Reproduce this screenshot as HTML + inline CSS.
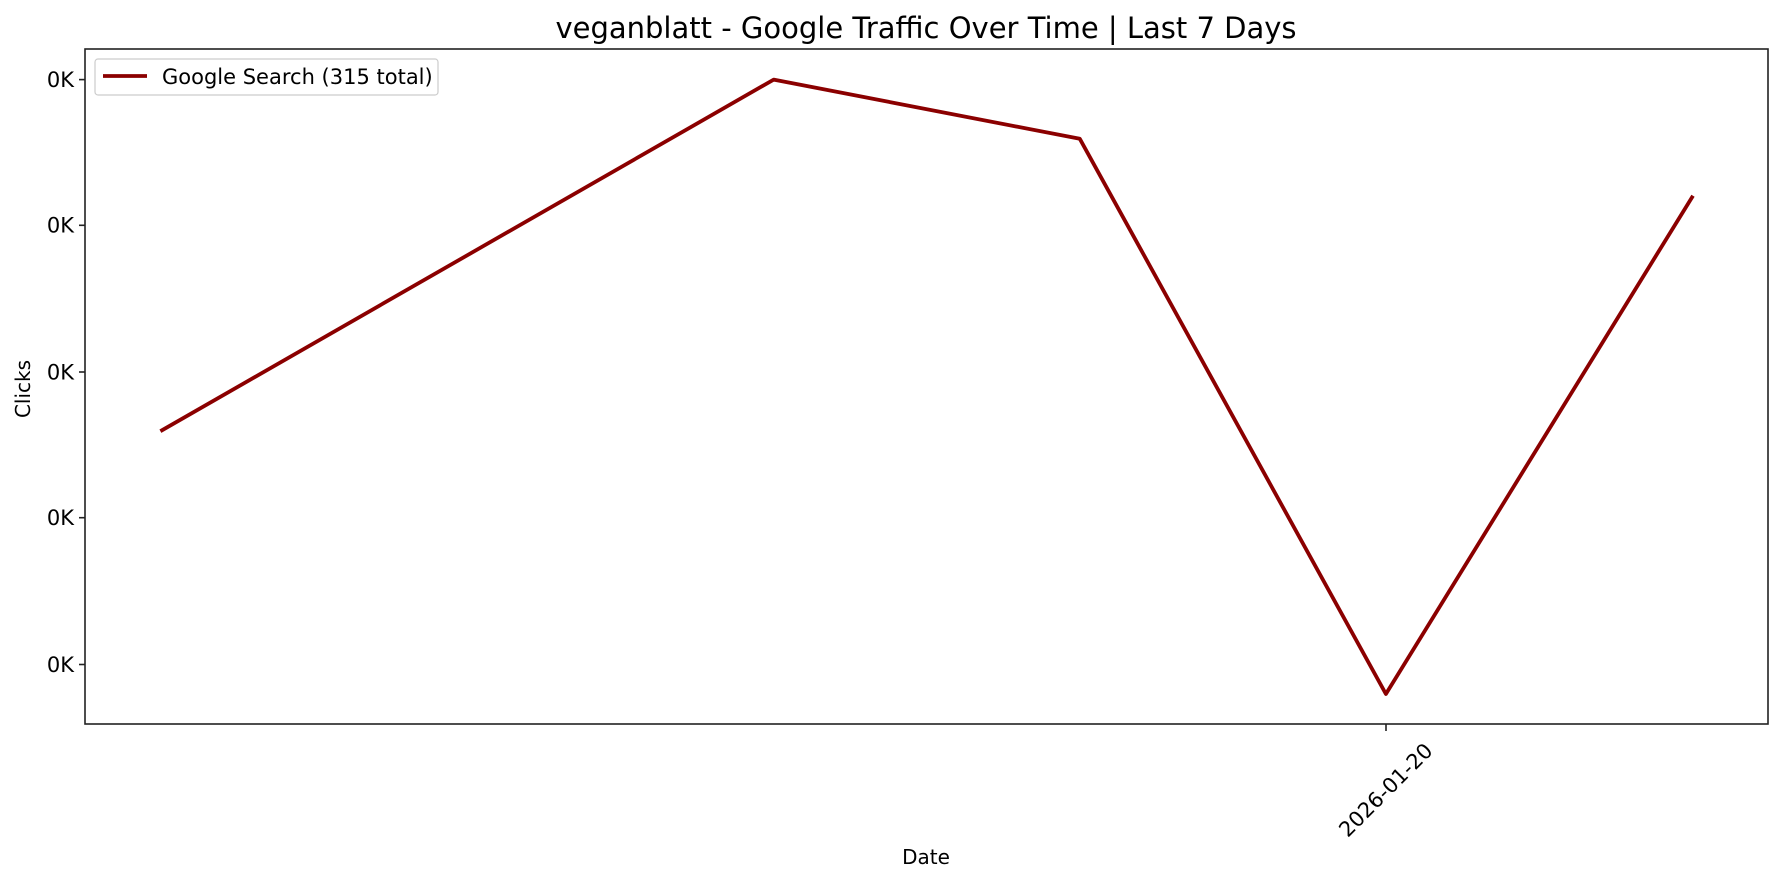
<!DOCTYPE html>
<html><head><meta charset="utf-8"><style>body{margin:0;background:#fff}svg{display:block}</style></head>
<body>
<svg width="1784" height="883" xmlns="http://www.w3.org/2000/svg" font-family="DejaVu Sans, Liberation Sans, sans-serif">
<rect width="1784" height="883" fill="#fff"/>
<text x="926" y="38" font-size="29" text-anchor="middle">veganblatt - Google Traffic Over Time | Last 7 Days</text>
<polyline points="160.4,431.2 773.7,79.6 1079.8,138.8 1385.9,694 1693,195.7" fill="none" stroke="#8b0000" stroke-width="3.8" stroke-linejoin="round"/>
<rect x="85" y="49" width="1683" height="675" fill="none" stroke="#222" stroke-width="1.6"/>
<g stroke="#222" stroke-width="1.6">
<line x1="79" y1="79.6" x2="85" y2="79.6"/><line x1="79" y1="225.3" x2="85" y2="225.3"/><line x1="79" y1="372" x2="85" y2="372"/><line x1="79" y1="517.7" x2="85" y2="517.7"/><line x1="79" y1="664.5" x2="85" y2="664.5"/>
<line x1="1386" y1="724" x2="1386" y2="731"/>
</g>
<g font-size="21" text-anchor="end">
<text x="74" y="87">0K</text><text x="74" y="232.5">0K</text><text x="74" y="379.5">0K</text><text x="74" y="525">0K</text><text x="74" y="672">0K</text>
</g>
<text transform="translate(1434,752) rotate(-45)" font-size="21" text-anchor="end">2026-01-20</text>
<text x="926" y="864" font-size="20" text-anchor="middle">Date</text>
<text transform="translate(30,389) rotate(-90)" font-size="20" text-anchor="middle">Clicks</text>
<rect x="95" y="59" width="343" height="36" rx="3" fill="#fff" stroke="#ccc" stroke-width="1.2"/>
<line x1="103" y1="76" x2="147" y2="76" stroke="#8b0000" stroke-width="3.8"/>
<text x="162" y="84" font-size="21">Google Search (315 total)</text>
</svg>
</body></html>
